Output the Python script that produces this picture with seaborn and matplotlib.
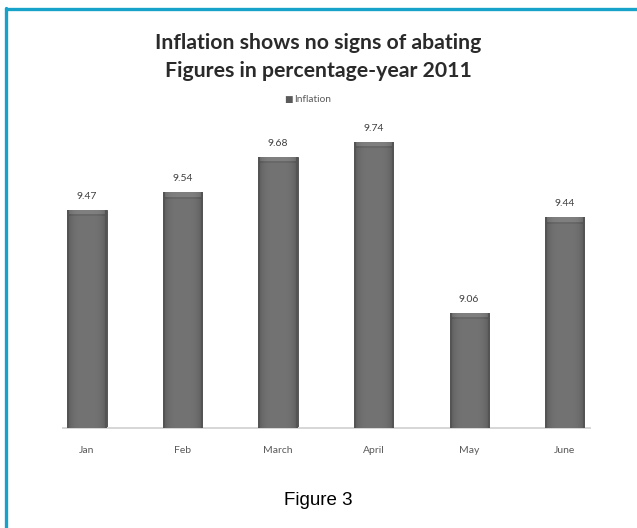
import numpy as np
import pandas as pd
import matplotlib
matplotlib.use("Agg")
import matplotlib.pyplot as plt
from matplotlib.lines import Line2D
import seaborn as sns

months = ["Jan", "Feb", "March", "April", "May", "June"]
inflation = [9.47, 9.54, 9.68, 9.74, 9.06, 9.44]
series_name = "Inflation"
title_lines = ["Inflation shows no signs of abating", "Figures in percentage-year 2011"]
caption = "Figure 3"

df = pd.DataFrame({"Month": months, series_name: inflation})

sns.set_theme(style="white")
plt.rcParams["font.family"] = ["Lato", "DejaVu Sans"]

fig = plt.figure(figsize=(6.37, 5.28), dpi=100)
fig.patch.set_facecolor("white")
ax = fig.add_axes([0.099, 0.189, 0.828, 0.6655])

sns.barplot(data=df, x="Month", y=series_name, order=months, color="#5e5e5e",
            width=0.41, edgecolor="#4a4a4a", linewidth=0.6, ax=ax, zorder=2)

ax.set_ylim(8.6, 10.0)
ax.set_xlim(-0.25, 5.27)
ax.set_xlabel("")
ax.set_ylabel("")
ax.set_yticks([])
for side in ["left", "right", "top"]:
    ax.spines[side].set_visible(False)
ax.spines["bottom"].set_color("#d6d6d6")
ax.spines["bottom"].set_linewidth(1.4)
ax.tick_params(axis="x", length=0, pad=13, labelsize=7.5, labelcolor="#595959")

# shaded, bevelled bar faces
fig.canvas.draw()
for patch in ax.patches:
    x0 = patch.get_x()
    w = patch.get_width()
    top = patch.get_y() + patch.get_height()
    bottom = ax.get_ylim()[0]
    p0 = ax.transData.transform((x0, bottom))
    p1 = ax.transData.transform((x0 + w, top))
    ncols = max(int(abs(p1[0] - p0[0])), 2)
    nrows = max(int(abs(p1[1] - p0[1])), 2)
    t = np.linspace(-1, 1, ncols)
    profile = 0.45 - 0.10 * t ** 4
    shade = np.tile(profile, (nrows, 1))
    shade[:5, :] += 0.05
    shade[5:7, :] -= 0.04
    shade[:, :2] = 0.33
    shade[:, -2:] = 0.33
    rgb = np.dstack([shade, shade, shade])
    im = ax.imshow(rgb, extent=[x0, x0 + w, bottom, top], aspect="auto",
                   zorder=3, interpolation="bilinear")
    im.set_clip_path(patch)

for i, v in enumerate(inflation):
    ax.annotate(f"{v:.2f}", xy=(i, v), xytext=(0, 6.5), textcoords="offset points",
                ha="center", va="bottom", fontsize=7.5, color="#404040", zorder=4)

# legend entry
fig.text(0.446, 0.811, "\u25a0", fontsize=6.5, color="#5a5a5a", ha="left", va="center",
         family=["DejaVu Sans"])
fig.text(0.462, 0.811, series_name, fontsize=7.3, color="#595959", ha="left", va="center")

fig.text(0.5, 0.919, title_lines[0], fontsize=15.3, fontweight="bold", color="#2a2a2a",
         ha="center", va="center")
fig.text(0.5, 0.866, title_lines[1], fontsize=15.3, fontweight="bold", color="#2a2a2a",
         ha="center", va="center")

fig.text(0.5, 0.053, caption, fontsize=13.5, color="black", ha="center", va="center",
         family=["Liberation Sans", "DejaVu Sans"])

# frame lines along the top and left edge
fig.add_artist(Line2D([0.0095, 1.0], [0.983, 0.983], transform=fig.transFigure,
                      color="#17a3c9", linewidth=2.4))
fig.add_artist(Line2D([0.0095, 0.0095], [0.0, 0.985], transform=fig.transFigure,
                      color="#17a3c9", linewidth=2.4))

fig.savefig("out.png", dpi=100, facecolor="white")
